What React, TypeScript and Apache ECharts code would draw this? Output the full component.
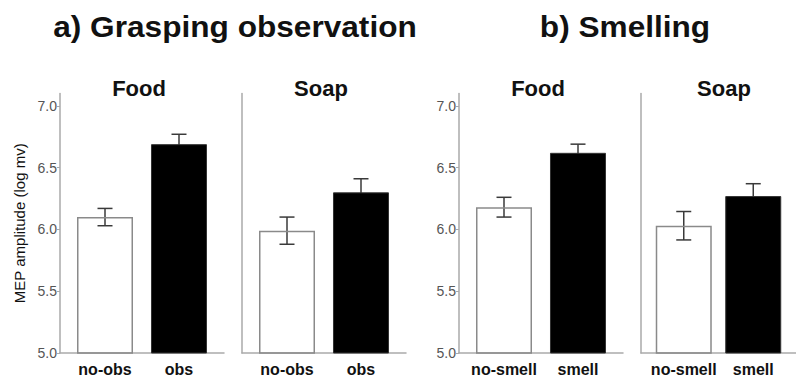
import React, { useEffect, useRef } from "react";
import * as echarts from "echarts";

// ---- data ----
const yTicks = [5.0, 5.5, 6.0, 6.5, 7.0];
const graspCats = ["no-obs", "obs"];
const smellCats = ["no-smell", "smell"];
const panelNames = ["Food", "Soap", "Food", "Soap"];
const mainTitles = ["a) Grasping observation", "b) Smelling"];
const yAxisName = "MEP amplitude (log mv)";

const graspFoodMean = [6.10, 6.69];
const graspFoodErr = [0.07, 0.08];
const graspSoapMean = [5.99, 6.30];
const graspSoapErr = [0.11, 0.11];
const smellFoodMean = [6.18, 6.62];
const smellFoodErr = [0.08, 0.07];
const smellSoapMean = [6.03, 6.27];
const smellSoapErr = [0.115, 0.10];

// ---- layout / style ----
const FONT = "'Liberation Sans', Arial, Helvetica, sans-serif";
const gridLefts = [60, 242, 459, 641];
const GRID_W = 164;
const GRID_TOP = 93.5;
const GRID_BOTTOM = 30;
const BAR_W = 56;
const BAR_SHIFT = 4;
const AXIS_COLOR = "#aaaaaa";

export default function App() {
  const ref = useRef<HTMLDivElement>(null);
  useEffect(() => {
    document.body.style.margin = "0";
    if (!ref.current) return;
    const chart = echarts.init(ref.current, null, { renderer: "svg" });

    const panels = [
      { cats: graspCats, mean: graspFoodMean, err: graspFoodErr },
      { cats: graspCats, mean: graspSoapMean, err: graspSoapErr },
      { cats: smellCats, mean: smellFoodMean, err: smellFoodErr },
      { cats: smellCats, mean: smellSoapMean, err: smellSoapErr },
    ];

    const grid = gridLefts.map((left) => ({
      left,
      width: GRID_W,
      top: GRID_TOP,
      bottom: GRID_BOTTOM,
      containLabel: false,
    }));

    const xAxis = panels.map((p, i) => ({
      type: "category",
      gridIndex: i,
      data: p.cats,
      axisLine: { lineStyle: { color: AXIS_COLOR, width: 1.5 } },
      axisTick: { show: false },
      axisLabel: {
        margin: 8,
        formatter: (v: string, idx: number) => (idx === 0 ? `{l|${v}}` : `{r|${v}}`),
        rich: {
          l: { padding: [0, 0, 0, BAR_SHIFT * 2], fontSize: 16, fontWeight: "bold", color: "#111", fontFamily: FONT },
          r: { padding: [0, BAR_SHIFT * 2, 0, 0], fontSize: 16, fontWeight: "bold", color: "#111", fontFamily: FONT },
        },
      },
    }));

    const yAxis = panels.map((_, i) => {
      const labelled = i % 2 === 0;
      return {
        type: "value",
        gridIndex: i,
        min: 5,
        max: 7.1,
        splitLine: { show: false },
        axisLine: { show: true, lineStyle: { color: AXIS_COLOR, width: 1.5 } },
        axisTick: {
          show: labelled,
          length: 3,
          customValues: yTicks,
          lineStyle: { color: AXIS_COLOR },
        },
        axisLabel: {
          show: labelled,
          customValues: yTicks,
          margin: 3,
          fontSize: 14,
          color: "#555",
          fontFamily: FONT,
          formatter: (v: number) => v.toFixed(1),
        },
        ...(i === 0
          ? {
              name: yAxisName,
              nameLocation: "middle",
              nameGap: 33,
              nameRotate: 90,
              nameTextStyle: { fontSize: 15, color: "#111", fontFamily: FONT },
            }
          : {}),
      };
    });

    const series: any[] = [];
    panels.forEach((p, i) => {
      // black bar first (left slot), white bar second (right slot)
      series.push({
        type: "bar",
        xAxisIndex: i,
        yAxisIndex: i,
        barWidth: BAR_W,
        barGap: "-85.7%",
        z: 3,
        data: ["-", p.mean[1]],
        itemStyle: { color: "#000", borderColor: "#333", borderWidth: 1 },
      });
      series.push({
        type: "bar",
        xAxisIndex: i,
        yAxisIndex: i,
        barWidth: BAR_W,
        barGap: "-85.7%",
        z: 3,
        data: [p.mean[0], "-"],
        itemStyle: { color: "rgba(255,255,255,0)", borderColor: "#8a8a8a", borderWidth: 1.5 },
      });
      series.push({
        type: "custom",
        xAxisIndex: i,
        yAxisIndex: i,
        z: 1,
        encode: { x: 0, y: 1 },
        data: p.mean.map((m, k) => [k, m, p.err[k]]),
        renderItem: (params: any, api: any) => {
          const idx = api.value(0);
          const m = api.value(1);
          const e = api.value(2);
          const hi = api.coord([idx, m + e]);
          const lo = api.coord([idx, m - e]);
          const x = hi[0] + (idx === 0 ? BAR_SHIFT : -BAR_SHIFT);
          const half = 7.5;
          const st = { stroke: "#3a3a3a", lineWidth: 1.5 };
          return {
            type: "group",
            children: [
              { type: "line", shape: { x1: x, y1: hi[1], x2: x, y2: lo[1] }, style: st },
              { type: "line", shape: { x1: x - half, y1: hi[1], x2: x + half, y2: hi[1] }, style: st },
              { type: "line", shape: { x1: x - half, y1: lo[1], x2: x + half, y2: lo[1] }, style: st },
            ],
          };
        },
      });
    });

    const subCenters = gridLefts.map((l) => l + GRID_W / 2 - 3);
    subCenters[3] = 724;
    const graphic: any[] = [
      {
        type: "text",
        x: 235,
        y: 26.5,
        scaleX: 1.09,
        style: {
          text: mainTitles[0],
          fontSize: 29,
          fontWeight: "bold",
          fontFamily: FONT,
          fill: "#111",
          align: "center",
          verticalAlign: "middle",
          textAlign: "center",
          textVerticalAlign: "middle",
        },
      },
      {
        type: "text",
        x: 625,
        y: 26.5,
        scaleX: 1.09,
        style: {
          text: mainTitles[1],
          fontSize: 29,
          fontWeight: "bold",
          fontFamily: FONT,
          fill: "#111",
          align: "center",
          verticalAlign: "middle",
          textAlign: "center",
          textVerticalAlign: "middle",
        },
      },
      ...panelNames.map((n, i) => ({
        type: "text",
        x: subCenters[i],
        y: 88.4,
        style: {
          text: n,
          fontSize: 22,
          fontWeight: "bold",
          fontFamily: FONT,
          fill: "#111",
          align: "center",
          verticalAlign: "middle",
          textAlign: "center",
          textVerticalAlign: "middle",
        },
      })),
    ];

    chart.setOption({
      animation: false,
      backgroundColor: "#fff",
      grid,
      xAxis,
      yAxis,
      series,
      graphic,
    });
    return () => chart.dispose();
  }, []);
  return <div ref={ref} style={{ width: 796, height: 383 }} />;
}
